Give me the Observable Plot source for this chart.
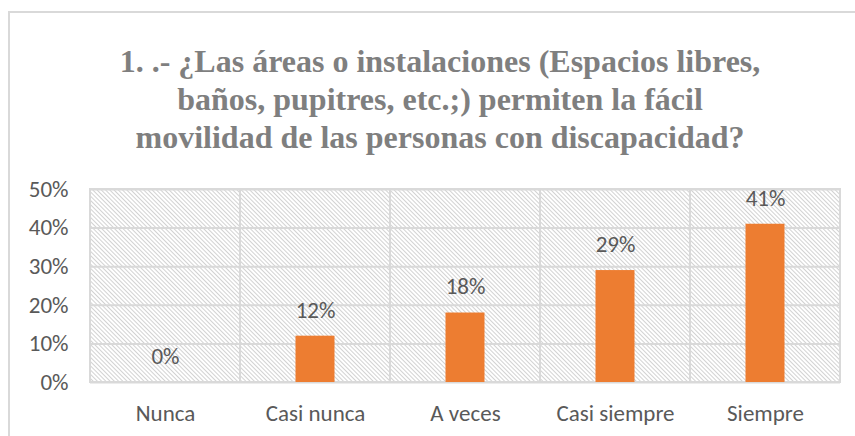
<!DOCTYPE html>
<html>
<head>
<meta charset="utf-8">
<script src="https://cdn.jsdelivr.net/npm/d3@7"></script>
<script src="https://cdn.jsdelivr.net/npm/@observablehq/plot@0.6"></script>
<style>
  html, body { margin: 0; padding: 0; background: #fff; width: 855px; height: 436px; overflow: hidden; }
  #frame { position: absolute; left: 8px; top: 11px; width: 900px; height: 500px;
           border-left: 2px solid #d9d9d9; border-top: 2px solid #d9d9d9; }
  #title { position: absolute; left: 0; width: 880px; top: 42px; text-align: center; white-space: nowrap;
           font-family: "Liberation Serif", "Times New Roman", serif; font-weight: bold;
           font-size: 32px; line-height: 38px; color: #7f7f7f; }
  #chart { position: absolute; left: 0; top: 170px; }
</style>
</head>
<body>
<div id="frame"></div>
<div id="title">1. .- ¿Las áreas o instalaciones (Espacios libres,<br>baños, pupitres, etc.;) permiten la fácil<br>movilidad de las personas con discapacidad?</div>
<div id="chart"></div>
<script>
const categories = ["Nunca", "Casi nunca", "A veces", "Casi siempre", "Siempre"];
const values = [0, 0.12, 0.18, 0.29, 0.41];
const valueLabels = ["0%", "12%", "18%", "29%", "41%"];
const yTicks = [0, 0.1, 0.2, 0.3, 0.4, 0.5];

const data = categories.map((c, i) => ({cat: c, value: values[i], label: valueLabels[i]}));

const chart = Plot.plot({
  width: 855,
  height: 266,
  marginTop: 19,
  marginBottom: 54,
  marginLeft: 90,
  marginRight: 15,
  style: {fontFamily: "Carlito, Calibri, 'Open Sans', sans-serif", fontSize: "23px", color: "#595959", background: "transparent"},
  x: {domain: categories, padding: 0, label: null, tickSize: 0, tickPadding: 22},
  y: {domain: [0, 0.5], ticks: yTicks, tickFormat: d3.format(".0%"), label: null, tickSize: 0, tickPadding: 22},
  marks: [
    Plot.barY(categories, {x: d => d, y1: 0, y2: 0.5, fill: "url(#hatch)"}),
    Plot.gridY(yTicks, {stroke: "#d9d9d9", strokeOpacity: 1, strokeWidth: 2}),
    Plot.barY(categories, {x: d => d, y1: 0, y2: 0.5, fill: "none", stroke: "#d9d9d9", strokeWidth: 2}),
    Plot.barY(data, {x: "cat", y: "value", fill: "#ED7D31", insetLeft: 55.5, insetRight: 55.5}),
    Plot.text(data, {x: "cat", y: "value", text: "label", lineAnchor: "middle", dy: -26, fill: "#595959"})
  ]
});

const defs = d3.select(chart).insert("defs", ":first-child");
const pat = defs.append("pattern")
  .attr("id", "hatch")
  .attr("width", 3).attr("height", 3)
  .attr("patternUnits", "userSpaceOnUse")
  .attr("patternTransform", "rotate(-45)");
pat.append("rect").attr("width", 3).attr("height", 3).attr("fill", "#fff");
pat.append("line").attr("x1", 0.5).attr("y1", 0).attr("x2", 0.5).attr("y2", 3)
  .attr("stroke", "#d2d2d2").attr("stroke-width", 1);

document.getElementById("chart").appendChild(chart);
</script>
</body>
</html>
